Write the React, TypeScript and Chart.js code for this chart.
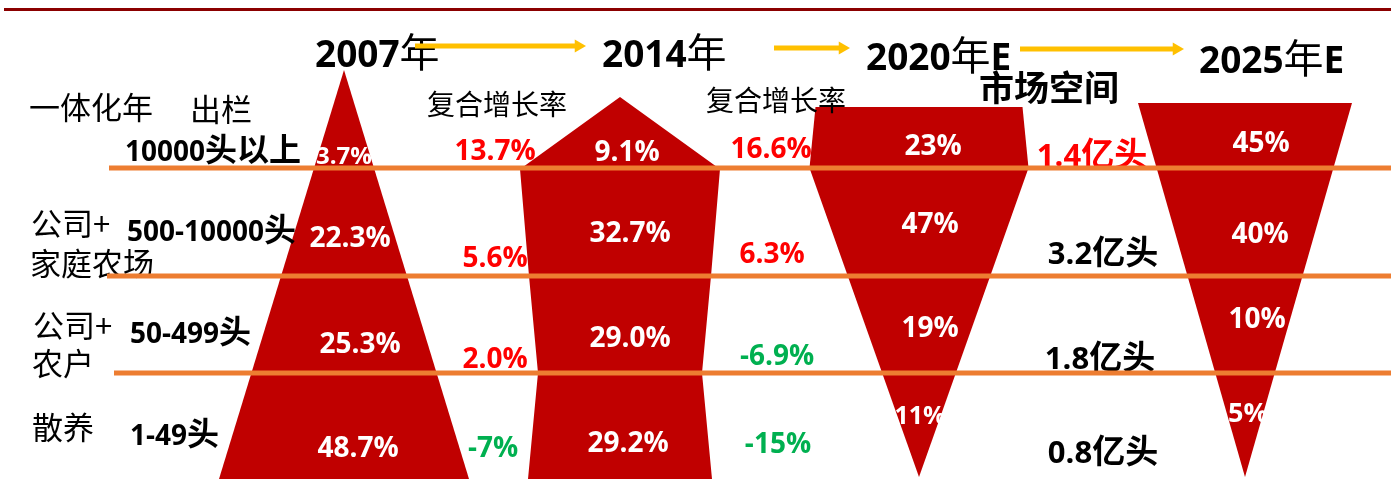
import React, { useEffect, useRef } from 'react';
import { Chart, registerables } from 'chart.js';

Chart.register(...registerables);

// ---------------- data ----------------
const yearLabels = ['2007', '2014', '2020', '2025'];
const yearSuffixes = ['年', '年', '年E', '年E'];
const scaleBands = ['10000头以上', '500-10000头', '50-499头', '1-49头'];
const modeLabels = [['一体化年'], ['公司+', '家庭农场'], ['公司+', '农户'], ['散养']];
const headerSuffix = '出栏';
const share2007 = [3.7, 22.3, 25.3, 48.7];
const share2014 = [9.1, 32.7, 29.0, 29.2];
const share2020E = [23, 47, 19, 11];
const share2025E = [45, 40, 10, 5];
const shareDecimals = [1, 1, 0, 0];
const cagr2007to2014 = [13.7, 5.6, 2.0, -7];
const cagr2014to2020 = [16.6, 6.3, -6.9, -15];
const cagrDecimals = [1, 1, 1, 0];
const marketSpace = [1.4, 3.2, 1.8, 0.8];
const marketUnit = '亿头';
const cagrTitle = '复合增长率';
const marketTitle = '市场空间';

// ---------------- layout / style ----------------
const W = 1391;
const H = 483;
const RED = '#C00000';
const ORANGE = '#ED7D31';
const GOLD = '#FFC000';
const UP = '#FF0000';
const DOWN = '#00B050';
const RULE = '#8B0000';

const columnCenters = [344, 620, 919, 1245];
// outline of each year's shape: [offset from column centre, vertical position]
const shapeProfiles: number[][][] = [
  [[0, 70], [125, 479], [-125, 479]],
  [[0, 97], [97, 167], [100, 169], [91, 276], [82, 373], [92, 479], [-92, 479], [-82, 373], [-91, 276], [-100, 169], [-97, 167]],
  [[-103.5, 107], [103.5, 107], [109.5, 168], [0, 477], [-109.5, 168]],
  [[-107, 103], [107, 103], [0, 477]],
];
const shareLabelPos = [
  [[0, 155], [6, 237], [16, 343], [14, 447]],
  [[7, 151], [10, 232], [10, 337], [8, 442]],
  [[14, 145], [11, 223], [11, 327], [1, 415]],
  [[16, 142], [15, 233], [12, 318], [3, 412]],
];
const shareLabelSize = [
  [24, 28, 28, 28],
  [28, 28, 28, 28],
  [28, 28, 28, 25],
  [28, 28, 28, 27],
];
const cagrLabelPos = [
  [[495, 150], [495, 257], [495, 358], [493, 447]],
  [[771, 148], [772, 253], [777, 355], [778, 443]],
];
const cagrTitlePos = [[497, 105], [776, 101]];
const marketLabelPos = [[1092, 155], [1103, 253], [1100, 358], [1103, 452]];
const marketTitlePos = [1049, 88];
const dividerY = [168, 276, 373];
const dividerX0 = [109, 107, 114];
const arrowSpecs = [[415, 586, 46], [774, 850, 48], [1020, 1184, 49]];
const yearTitlePos = [[315, 67], [602, 67], [866, 70], [1199, 73]]; // left, baseline
const bandLabelPos = [[125, 151], [127, 231], [130, 333], [130, 435]];
const modeLabelPos = [[[29, 107]], [[31, 223], [30, 263]], [[33, 325], [32, 363]], [[32, 427]]];
const headerSuffixPos = [190, 109];

const LATIN_B = (s: number) => `bold ${s}px "Open Sans"`;
const CJK_B = (s: number) => `bold ${s}px "Noto Sans CJK SC"`;
const CJK_R = (s: number) => `${s}px "Noto Sans CJK SC"`;

type Piece = { text: string; font: string };

function mixed(text: string, latinFont: string, cjkFont: string): Piece[] {
  const out: Piece[] = [];
  let lastCjk: boolean | null = null;
  for (const ch of text) {
    const cjk = /[\u3000-\u9fff\uff00-\uffef]/.test(ch);
    if (lastCjk === cjk) out[out.length - 1].text += ch;
    else out.push({ text: ch, font: cjk ? cjkFont : latinFont });
    lastCjk = cjk;
  }
  return out;
}

function drawPieces(
  ctx: CanvasRenderingContext2D,
  pieces: Piece[],
  x: number,
  baseline: number,
  color: string,
  align: 'left' | 'center'
) {
  ctx.save();
  ctx.fillStyle = color;
  ctx.textBaseline = 'alphabetic';
  ctx.textAlign = 'left';
  const widths = pieces.map((p) => {
    ctx.font = p.font;
    return ctx.measureText(p.text).width;
  });
  const total = widths.reduce((a, b) => a + b, 0);
  let cx = align === 'center' ? x - total / 2 : x;
  pieces.forEach((p, i) => {
    ctx.font = p.font;
    ctx.fillText(p.text, cx, baseline);
    cx += widths[i];
  });
  ctx.restore();
}

const fmt = (v: number, d: number) => `${v.toFixed(d)}%`;

export default function App() {
  const ref = useRef<HTMLCanvasElement>(null);

  useEffect(() => {
    document.body.style.margin = '0';
    const canvas = ref.current;
    if (!canvas) return;

    const datasets: any[] = [];
    dividerY.forEach((y, i) =>
      datasets.push({
        data: [{ x: dividerX0[i], y }, { x: W, y }],
        showLine: true,
        borderColor: ORANGE,
        borderWidth: 5,
        borderCapStyle: 'butt',
        pointRadius: 0,
        pointHoverRadius: 0,
        fill: false,
      })
    );
    arrowSpecs.forEach(([x0, x1, y]) =>
      datasets.push({
        data: [{ x: x0, y }, { x: x1 - 7.5, y }],
        showLine: true,
        borderColor: GOLD,
        borderWidth: 5,
        borderCapStyle: 'butt',
        fill: false,
        pointRadius: [0, 7.5],
        pointHoverRadius: 0,
        pointStyle: 'triangle',
        pointRotation: 90,
        pointBackgroundColor: GOLD,
        pointBorderColor: GOLD,
        pointBorderWidth: 0,
      })
    );
    const RULE_INDEX = datasets.length;
    datasets.push({
      data: [{ x: 4, y: 9.5 }, { x: W, y: 9.5 }],
      showLine: true,
      borderColor: RULE,
      borderWidth: 3,
      borderCapStyle: 'butt',
      pointRadius: 0,
      pointHoverRadius: 0,
      fill: false,
    });
    shapeProfiles.forEach((prof, i) =>
      datasets.push({
        data: prof.map(([dx, y]) => ({ x: columnCenters[i] + dx, y })),
        showLine: true,
        fill: 'shape',
        backgroundColor: RED,
        borderColor: 'rgba(0,0,0,0)',
        borderWidth: 0,
        pointRadius: 0,
        pointHoverRadius: 0,
        tension: 0,
      })
    );

    const shares = [share2007, share2014, share2020E, share2025E];
    const cagrs = [cagr2007to2014, cagr2014to2020];

    const textPlugin = {
      id: 'infographicText',
      beforeDraw(chart: any) {
        const c = chart.ctx;
        c.save();
        c.fillStyle = '#ffffff';
        c.fillRect(0, 0, chart.width, chart.height);
        c.restore();
      },
      beforeDatasetDraw(chart: any, args: any) {
        if (args.index !== RULE_INDEX) return;
        const ctx: CanvasRenderingContext2D = chart.ctx;
        const xs = chart.scales.x;
        const ys = chart.scales.y;
        const px = (v: number) => xs.getPixelForValue(v);
        const py = (v: number) => ys.getPixelForValue(v);

        // year titles
        yearLabels.forEach((yl, i) => {
          const [x, base] = yearTitlePos[i];
          const pieces: Piece[] = [{ text: yl, font: LATIN_B(37) }];
          for (const ch of yearSuffixes[i]) {
            pieces.push(/[\u3000-\u9fff]/.test(ch) ? { text: ch, font: CJK_R(40) } : { text: ch, font: LATIN_B(37) });
          }
          drawPieces(ctx, pieces, px(x), py(base), '#000', 'left');
        });

        // left side: modes and scale bands
        modeLabels.forEach((lines, i) => {
          lines.forEach((t, j) => {
            const [x, cy] = modeLabelPos[i][j];
            drawPieces(ctx, mixed(t, `31px "Noto Sans CJK SC"`, CJK_R(31)), px(x), py(cy) + 11.5, '#000', 'left');
          });
        });
        drawPieces(ctx, [{ text: headerSuffix, font: CJK_R(31) }], px(headerSuffixPos[0]), py(headerSuffixPos[1]) + 11.5, '#000', 'left');
        scaleBands.forEach((t, i) => {
          const [x, cy] = bandLabelPos[i];
          drawPieces(ctx, mixed(t, LATIN_B(28), CJK_B(32)), px(x), py(cy) + 10, '#000', 'left');
        });

        // CAGR titles
        cagrTitlePos.forEach(([x, cy]) =>
          drawPieces(ctx, [{ text: cagrTitle, font: CJK_R(28) }], px(x), py(cy) + 10.4, '#000', 'center')
        );
        // market title
        drawPieces(ctx, [{ text: marketTitle, font: CJK_B(35) }], px(marketTitlePos[0]), py(marketTitlePos[1]) + 13, '#000', 'center');

        // share labels (white, inside shapes)
        shares.forEach((arr, ci) => {
          arr.forEach((v, r) => {
            const [dx, cy] = shareLabelPos[ci][r];
            const s = shareLabelSize[ci][r];
            drawPieces(ctx, [{ text: fmt(v, shareDecimals[ci]), font: LATIN_B(s) }], px(columnCenters[ci] + dx), py(cy) + 0.357 * s, '#fff', 'center');
          });
        });

        // CAGR labels
        cagrs.forEach((arr, ci) => {
          arr.forEach((v, r) => {
            const [x, cy] = cagrLabelPos[ci][r];
            drawPieces(ctx, [{ text: fmt(v, cagrDecimals[r]), font: LATIN_B(28) }], px(x), py(cy) + 10, v >= 0 ? UP : DOWN, 'center');
          });
        });

        // market space labels
        marketSpace.forEach((v, r) => {
          const [x, cy] = marketLabelPos[r];
          drawPieces(ctx, mixed(`${v.toFixed(1)}${marketUnit}`, LATIN_B(31), CJK_B(33)), px(x), py(cy) + 11, r === 0 ? UP : '#000', 'center');
        });
      },
    };

    const chart = new Chart(canvas, {
      type: 'scatter',
      data: { datasets },
      options: {
        animation: false,
        responsive: false,
        devicePixelRatio: 1,
        layout: { padding: 0, autoPadding: false },
        events: [],
        plugins: { legend: { display: false }, tooltip: { enabled: false }, title: { display: false } },
        scales: {
          x: { type: 'linear', min: 0, max: W, display: false },
          y: { type: 'linear', min: 0, max: H, reverse: true, display: false },
        },
      },
      plugins: [textPlugin as any],
    });

    return () => chart.destroy();
  }, []);

  return (
    <div style={{ position: 'absolute', left: 0, top: 0, width: W, height: H }}>
      <canvas ref={ref} width={W} height={H} style={{ display: 'block', width: W, height: H }} />
    </div>
  );
}
